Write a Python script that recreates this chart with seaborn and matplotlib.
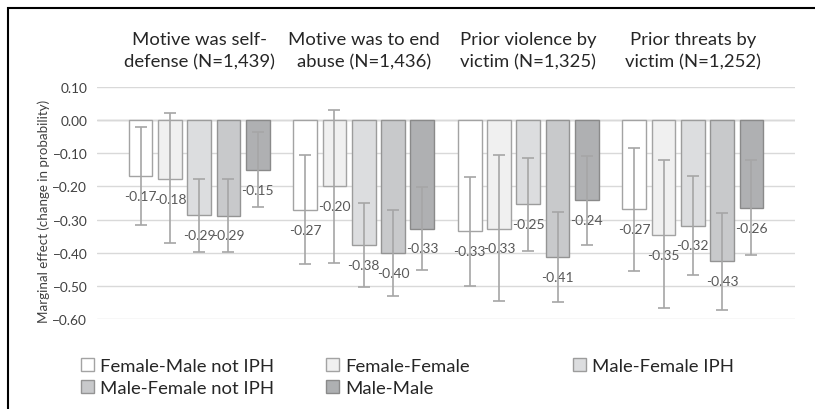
# Imports
import pandas as pd
import seaborn as sns
from matplotlib import pyplot as plt
from matplotlib.patches import Rectangle
from matplotlib.ticker import MultipleLocator, StrMethodFormatter

# Data
categories = ["Motive was self-\ndefense (N=1,439)", "Motive was to end\nabuse (N=1,436)",
              "Prior violence by\nvictim (N=1,325)", "Prior threats by\nvictim (N=1,252)"]
groups = ["Female-Male not IPH", "Female-Female", "Male-Female IPH",
          "Male-Female not IPH", "Male-Male"]

fm_not_iph = [-0.169, -0.271, -0.334, -0.269]
ff = [-0.177, -0.198, -0.327, -0.346]
mf_iph = [-0.287, -0.377, -0.254, -0.318]
mf_not_iph = [-0.288, -0.400, -0.413, -0.426]
mm = [-0.150, -0.327, -0.242, -0.264]

fm_not_iph_lo = [-0.316, -0.435, -0.499, -0.456]
fm_not_iph_hi = [-0.022, -0.104, -0.171, -0.083]
ff_lo = [-0.372, -0.430, -0.546, -0.568]
ff_hi = [0.022, 0.032, -0.106, -0.121]
mf_iph_lo = [-0.397, -0.504, -0.395, -0.468]
mf_iph_hi = [-0.177, -0.250, -0.114, -0.170]
mf_not_iph_lo = [-0.399, -0.531, -0.549, -0.574]
mf_not_iph_hi = [-0.177, -0.271, -0.276, -0.280]
mm_lo = [-0.262, -0.453, -0.376, -0.408]
mm_hi = [-0.037, -0.201, -0.108, -0.119]

values = [fm_not_iph, ff, mf_iph, mf_not_iph, mm]
lows = [fm_not_iph_lo, ff_lo, mf_iph_lo, mf_not_iph_lo, mm_lo]
highs = [fm_not_iph_hi, ff_hi, mf_iph_hi, mf_not_iph_hi, mm_hi]

fills = ["#ffffff", "#f0f0f0", "#dcdddf", "#c8c9cb", "#aeb0b2"]
edges = ["#a3a3a3", "#a3a3a3", "#9c9c9c", "#949494", "#8a8a8a"]

# Long table for seaborn
rows = []
for g, vals, lo, hi in zip(groups, values, lows, highs):
    for c, v, l, h in zip(categories, vals, lo, hi):
        rows.append({"kategorie": c, "skupina": g, "hodnota": v, "lo": l, "hi": h})
data = pd.DataFrame(rows)

sns.set_style("white")
plt.rcParams["font.family"] = ["Lato", "DejaVu Sans"]

fig = plt.figure(figsize=(8.15, 4.10), dpi=100)
ax = fig.add_axes([97 / 815, 1 - 320 / 410, 698 / 815, 232 / 410])

sns.barplot(data, x="kategorie", y="hodnota", hue="skupina", order=categories,
            hue_order=groups, palette=fills, width=0.89, gap=0.19, errorbar=None,
            linewidth=1, legend=False, ax=ax)

# Error bars and value labels per group
for cont, g, ec in zip(ax.containers, groups, edges):
    sub = data[data["skupina"] == g].set_index("kategorie").loc[categories]
    for p in cont:
        p.set_edgecolor(ec)
    xs = [p.get_x() + p.get_width() / 2 for p in cont]
    ax.bar_label(cont, labels=[f"{v:.2f}" for v in sub["hodnota"]], padding=10,
                 fontsize=10, color="#595959")
    ax.errorbar(xs, sub["hodnota"], yerr=[sub["hodnota"] - sub["lo"], sub["hi"] - sub["hodnota"]],
                fmt="none", ecolor="#a6a6a6", elinewidth=1.2, capsize=4, capthick=1.2, zorder=3)

# Axes formatting
ax.set_ylim(-0.6, 0.1)
ax.yaxis.set_major_locator(MultipleLocator(0.1))
ax.yaxis.set_major_formatter(StrMethodFormatter("{x:.2f}"))
ax.grid(axis="y", color="#d9d9d9", linewidth=1)
ax.set_axisbelow(True)
ax.axhline(0, color="#c0c0c0", linewidth=1, zorder=0.5)
for s in ax.spines.values():
    s.set_visible(False)
ax.tick_params(axis="y", length=0, pad=7, labelsize=9.8, labelcolor="#404040")
ax.xaxis.tick_top()
ax.tick_params(axis="x", length=0, pad=13, labelsize=13.3, labelcolor="#262626")
for t in ax.get_xticklabels():
    t.set_linespacing(1.45)
ax.set_xlabel("")
ax.set_ylabel("Marginal effect (change in probability)", fontsize=9.6, color="#404040")
ax.yaxis.set_label_coords(-0.067, 0.47)

# Legend in three columns
handles = [Rectangle((0, 0), 1, 1, facecolor=f, edgecolor=e, linewidth=1) for f, e in zip(fills, edges)]
cols = [([0, 3], 81), ([1, 4], 326), ([2], 573)]
for idx, x0 in cols:
    fig.legend([handles[i] for i in idx], [groups[i] for i in idx], loc="upper left",
               bbox_to_anchor=(x0 / 815, 1 - 359 / 410), frameon=False, fontsize=13.3,
               handlelength=0.7, handleheight=0.7, handletextpad=0.35, labelspacing=0.33,
               borderaxespad=0, borderpad=0)

# Outer frame
fig.patches.append(Rectangle((8 / 815, -0.1), 1.2, 1.1 - 9 / 410, transform=fig.transFigure,
                             fill=False, edgecolor="black", linewidth=1.5))

fig.savefig("out.png", dpi=100)
